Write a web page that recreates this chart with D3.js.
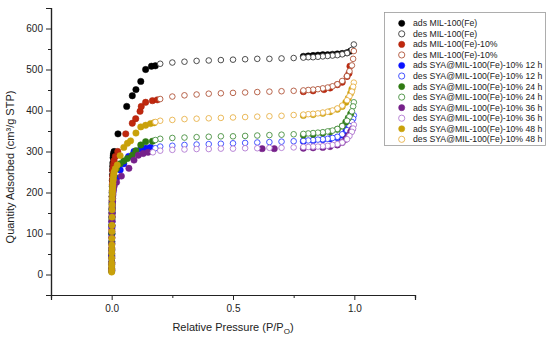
<!DOCTYPE html>
<html><head><meta charset="utf-8">
<script src="https://cdn.jsdelivr.net/npm/d3@7"></script>
<style>html,body{margin:0;padding:0;background:#fff;}svg{display:block;font-family:"Liberation Sans",Arial,sans-serif;}</style>
</head><body><svg id="c" width="550" height="343"></svg>
<script>
// ---- data ----
const seriesNames = [
 "ads MIL-100(Fe)","des MIL-100(Fe)",
 "ads MIL-100(Fe)-10%","des MIL-100(Fe)-10%",
 "ads SYA@MIL-100(Fe)-10% 12 h","des SYA@MIL-100(Fe)-10% 12 h",
 "ads SYA@MIL-100(Fe)-10% 24 h","des SYA@MIL-100(Fe)-10% 24 h",
 "ads SYA@MIL-100(Fe)-10% 36 h","des SYA@MIL-100(Fe)-10% 36 h",
 "ads SYA@MIL-100(Fe)-10% 48 h","des SYA@MIL-100(Fe)-10% 48 h"];

const adsBlackP = [0.0001,0.0002,0.0003,0.0004,0.0006,0.0008,0.001,0.0012,0.0015,0.0018,0.002,0.0025,0.003,0.0035,0.004,0.0045,0.005,0.006,0.007,0.008,0.01,0.026,0.062,0.085,0.1,0.12,0.14,0.164,0.18,0.79,0.81,0.83,0.85,0.87,0.89,0.91,0.93,0.95,0.97,0.985];
const adsBlackV = [15,30,50,75,100,120,140,158,175,190,200,215,230,243,255,264,272,285,291,295,300,343,410,436,451,471,500,508,509,532,533,534,535,536,536,537,538,539,541,545];
const desBlackP = [0.998,0.99,0.97,0.95,0.93,0.91,0.89,0.87,0.85,0.83,0.81,0.79,0.75,0.70,0.65,0.60,0.55,0.50,0.45,0.40,0.35,0.30,0.25,0.20];
const desBlackV = [561,548,540,537,535,534,533,532,531,530,530,529,528,527,526,526,525,524,523,522,521,519,517,514];

const adsRedP = [0.0001,0.0002,0.0003,0.0004,0.0006,0.0008,0.001,0.0012,0.0015,0.0018,0.002,0.0025,0.003,0.0035,0.004,0.005,0.006,0.007,0.0085,0.01,0.015,0.025,0.058,0.085,0.099,0.117,0.122,0.14,0.168,0.188,0.79,0.83,0.875,0.90,0.93,0.95,0.97,0.978,0.982];
const adsRedV = [12,28,45,65,90,110,130,148,165,180,190,205,220,230,240,252,258,265,272,278,288,300,343,369,380,398,410,420,424,426,446,448,451,455,463,469,483,491,508];
const desRedP = [0.998,0.995,0.99,0.98,0.97,0.95,0.93,0.91,0.89,0.87,0.85,0.83,0.81,0.79,0.75,0.70,0.65,0.60,0.55,0.50,0.45,0.40,0.35,0.30,0.25,0.20];
const desRedV = [545,526,510,496,484,472,464,459,456,454,452,451,450,449,448,447,446,445,444,443,442,441,439,437,434,428];

const adsBlueP = [0.0001,0.0002,0.0003,0.0004,0.0006,0.0008,0.001,0.0012,0.0015,0.0018,0.002,0.0025,0.003,0.0035,0.004,0.005,0.007,0.01,0.02,0.035,0.05,0.07,0.092,0.12,0.14,0.16,0.79,0.83,0.87,0.90,0.93,0.95,0.965,0.975,0.985];
const adsBlueV = [10,28,45,62,80,98,115,128,140,152,160,172,180,186,192,200,210,220,235,255,270,288,300,306,308,310,325,327,329,331,334,340,348,356,365];
const desBlueP = [0.998,0.995,0.99,0.98,0.97,0.95,0.93,0.91,0.89,0.87,0.85,0.83,0.81,0.79,0.75,0.70,0.65,0.60,0.55,0.50,0.45,0.40,0.35,0.30,0.25,0.20,0.18];
const desBlueV = [388,380,372,362,352,342,336,333,331,330,329,328,327,326,325,324,323,322,321,320,319,318,317,316,314,312,308];

const adsGreenP = [0.0001,0.0002,0.0003,0.0004,0.0006,0.0008,0.001,0.0012,0.0015,0.0018,0.002,0.0025,0.003,0.0035,0.004,0.005,0.007,0.01,0.02,0.035,0.05,0.065,0.085,0.1,0.12,0.14,0.168,0.79,0.83,0.87,0.90,0.93,0.95,0.965,0.975,0.985];
const adsGreenV = [8,24,40,60,80,100,120,135,150,162,170,182,190,198,205,215,228,240,258,270,277,283,291,302,316,324,325,340,342,345,348,354,362,372,382,392];
const desGreenP = [0.998,0.995,0.99,0.98,0.97,0.95,0.93,0.91,0.89,0.87,0.85,0.83,0.81,0.79,0.75,0.70,0.65,0.60,0.55,0.50,0.45,0.40,0.35,0.30,0.25,0.20,0.18];
const desGreenV = [420,410,398,385,375,362,355,351,349,347,346,345,344,343,342,341,340,339,338,337,337,336,335,334,333,331,328];

const adsPurpleP = [0.0001,0.0002,0.0003,0.0004,0.0006,0.0008,0.001,0.0012,0.0015,0.0018,0.002,0.0025,0.003,0.0035,0.004,0.005,0.007,0.01,0.02,0.04,0.071,0.092,0.11,0.13,0.15,0.62,0.67,0.79,0.83,0.87,0.90,0.93,0.95,0.965,0.975,0.985,0.992];
const adsPurpleV = [10,25,40,58,75,90,105,118,130,142,150,160,170,178,185,195,205,215,225,240,259,279,291,295,298,307,307,308,309,310,312,316,322,330,338,348,355];
const desPurpleP = [0.998,0.995,0.99,0.98,0.97,0.95,0.93,0.91,0.89,0.87,0.85,0.83,0.81,0.79,0.75,0.70,0.65,0.60,0.55,0.50,0.45,0.40,0.35,0.30,0.25,0.20,0.17];
const desPurpleV = [365,356,348,338,330,322,318,316,314,313,312,312,311,311,310,309,309,308,308,307,307,306,306,305,304,302,298];

const adsGoldP = [0.00005,0.0001,0.00015,0.0002,0.0003,0.0004,0.0005,0.0006,0.0008,0.001,0.0012,0.0015,0.0018,0.002,0.0025,0.003,0.0035,0.004,0.0045,0.005,0.006,0.007,0.0085,0.01,0.015,0.023,0.035,0.05,0.065,0.078,0.1,0.12,0.14,0.16,0.175,0.79,0.83,0.87,0.90,0.93,0.95,0.965,0.975,0.985,0.99];
const adsGoldV = [6,12,20,28,40,52,62,72,88,105,120,140,158,170,185,195,203,210,216,222,230,236,244,250,258,267,290,310,320,326,345,360,364,368,370,388,390,393,397,403,410,420,430,442,452];
const desGoldP = [0.998,0.995,0.99,0.98,0.97,0.95,0.93,0.91,0.89,0.87,0.85,0.83,0.81,0.79,0.75,0.70,0.65,0.60,0.55,0.50,0.45,0.40,0.35,0.30,0.25,0.20,0.18];
const desGoldV = [468,458,446,435,425,412,405,400,397,395,393,392,391,390,389,387,386,385,384,383,382,381,380,379,377,375,372];

const xTickLabels = ["0.0","0.5","1.0"];
const yTickLabels = ["0","100","200","300","400","500","600"];

// ---- styles ----
const styles = [
 {fill:"#000000", stroke:"#000000"},{fill:"#ffffff", stroke:"#3a3a3a"},
 {fill:"#c0280e", stroke:"#a8220c"},{fill:"#ffffff", stroke:"#b0553a"},
 {fill:"#0a12ff", stroke:"#0a12ff"},{fill:"#ffffff", stroke:"#3444ff"},
 {fill:"#2f7a12", stroke:"#2f7a12"},{fill:"#ffffff", stroke:"#479040"},
 {fill:"#76218a", stroke:"#76218a"},{fill:"#ffffff", stroke:"#b27ad2"},
 {fill:"#c9a10a", stroke:"#c9a10a"},{fill:"#ffffff", stroke:"#e8b24a"}];

const seriesData = [
 [adsBlackP,adsBlackV],[desBlackP,desBlackV],
 [adsRedP,adsRedV],[desRedP,desRedV],
 [adsBlueP,adsBlueV],[desBlueP,desBlueV],
 [adsGreenP,adsGreenV],[desGreenP,desGreenV],
 [adsPurpleP,adsPurpleV],[desPurpleP,desPurpleV],
 [adsGoldP,adsGoldV],[desGoldP,desGoldV]];

const svg = d3.select("#c");
const x = d3.scaleLinear().domain([-0.25,1.25]).range([51,415]);
const y = d3.scaleLinear().domain([-50,650]).range([295,8]);

// axes
const xAxisG = svg.append("g").attr("transform","translate(0,295)");
xAxisG.call(d3.axisBottom(x).tickValues([-0.25,0.25,0.75,1.25]).tickSize(3).tickFormat(""));
xAxisG.call(g=>g.append("g").call(d3.axisBottom(x).tickValues([0,0.5,1.0]).tickSize(5).tickFormat((d,i)=>xTickLabels[i])));
const yAxisG = svg.append("g").attr("transform","translate(51,0)");
yAxisG.call(d3.axisLeft(y).tickValues([-50,50,150,250,350,450,550,650]).tickSize(3).tickFormat(""));
yAxisG.call(g=>g.append("g").call(d3.axisLeft(y).tickValues([0,100,200,300,400,500,600]).tickSize(5).tickFormat((d,i)=>yTickLabels[i])));
svg.selectAll(".domain").attr("stroke","#222").attr("stroke-width",1.2);
svg.selectAll(".tick line").attr("stroke","#222");
svg.selectAll(".tick text").attr("font-size","10px").attr("fill","#222").attr("font-family","Liberation Sans, Arial, sans-serif");
xAxisG.selectAll(".tick text").attr("dy","0.9em");

// titles
const xt = svg.append("text").attr("x",233).attr("y",331).attr("text-anchor","middle")
  .attr("font-size","11px").attr("fill","#222");
xt.append("tspan").text("Relative Pressure (P/P");
xt.append("tspan").attr("font-size","8px").attr("dy","3").text("O");
xt.append("tspan").attr("dy","-3").text(")");
svg.append("text").attr("transform","translate(14,167) rotate(-90)").attr("text-anchor","middle")
  .attr("font-size","11px").attr("fill","#222").text("Quantity Adsorbed (cm³/g STP)");

// points
seriesData.forEach((sd,i)=>{
  const pts = sd[0].map((p,j)=>({p:p,v:sd[1][j]}));
  svg.append("g").selectAll("circle").data(pts).join("circle")
    .attr("cx",d=>x(d.p)).attr("cy",d=>y(d.v))
    .attr("r", i%2===0 ? 3.2 : 2.8)
    .attr("fill",styles[i].fill).attr("stroke",styles[i].stroke)
    .attr("stroke-width", i%2===0 ? 0.5 : 0.9);
});

// legend
const lg = svg.append("g");
lg.append("rect").attr("x",384.5).attr("y",12.5).attr("width",161).attr("height",133)
  .attr("fill","#fff").attr("stroke","#999").attr("stroke-width",0.8);
const ly = d3.scalePoint().domain(d3.range(seriesNames.length)).range([23.3,139.3]);
seriesNames.forEach((n,i)=>{
  lg.append("circle").attr("cx",401.7).attr("cy",ly(i)).attr("r",3.1)
    .attr("fill",styles[i].fill).attr("stroke",styles[i].stroke).attr("stroke-width",i%2===0?0.5:0.9);
  lg.append("text").attr("x",413).attr("y",ly(i)+3).attr("font-size","8.7px").attr("fill","#222").text(n);
});
</script></body></html>
